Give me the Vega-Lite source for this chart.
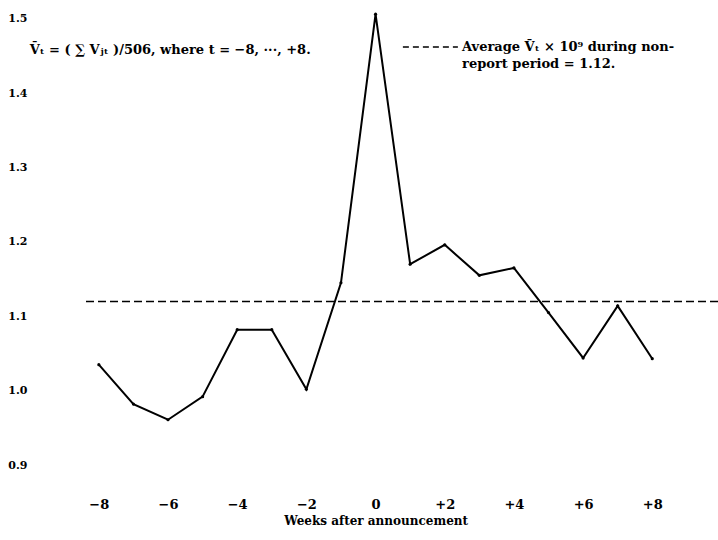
{
  "$schema": "https://vega.github.io/schema/vega-lite/v6.json",
  "width": 633,
  "height": 480,
  "autosize": {"type": "none"},
  "padding": {"left": 85, "top": 0, "right": 0, "bottom": 60},
  "background": "white",
  "config": {
    "view": {"stroke": null},
    "font": "DejaVu Serif",
    "axis": {"labelFont": "DejaVu Serif", "titleFont": "DejaVu Serif"},
    "text": {"font": "DejaVu Serif"}
  },
  "datasets": {
    "series": [
      {"week": -8, "volume": 1.035},
      {"week": -7, "volume": 0.982},
      {"week": -6, "volume": 0.961},
      {"week": -5, "volume": 0.992},
      {"week": -4, "volume": 1.082},
      {"week": -3, "volume": 1.082},
      {"week": -2, "volume": 1.002},
      {"week": -1, "volume": 1.145},
      {"week": 0, "volume": 1.506},
      {"week": 1, "volume": 1.170},
      {"week": 2, "volume": 1.196},
      {"week": 3, "volume": 1.155},
      {"week": 4, "volume": 1.165},
      {"week": 5, "volume": 1.105},
      {"week": 6, "volume": 1.044},
      {"week": 7, "volume": 1.114},
      {"week": 8, "volume": 1.043}
    ],
    "avg": [{"value": 1.12}],
    "legendDash": [{"x1": 0.79, "x2": 2.38, "y": 1.462}],
    "notes": [
      {"x": -10.0, "y": 1.458, "text": "V̄ₜ = ( ∑ Vⱼₜ )/506, where t = −8, ···, +8."},
      {"x": 2.5, "y": 1.462, "text": "Average V̄ₜ × 10⁹ during non-"},
      {"x": 2.5, "y": 1.439, "text": "report period = 1.12."}
    ]
  },
  "layer": [
    {
      "data": {"name": "avg"},
      "mark": {"type": "rule", "strokeDash": [8, 4], "strokeWidth": 1.5, "color": "black"},
      "encoding": {
        "y": {"field": "value", "type": "quantitative", "scale": {"domain": [0.88, 1.525], "nice": false, "zero": false}}
      }
    },
    {
      "data": {"name": "series"},
      "mark": {"type": "line", "color": "black", "strokeWidth": 2, "point": {"filled": true, "size": 10, "color": "black"}},
      "encoding": {
        "x": {
          "field": "week", "type": "quantitative",
          "scale": {"domain": [-8.4, 9.9], "nice": false, "zero": false},
          "axis": {
            "values": [-8, -6, -4, -2, 0, 2, 4, 6, 8],
            "labelExpr": "datum.value > 0 ? '+' + datum.value : (datum.value < 0 ? '−' + abs(datum.value) : '0')",
            "domain": false, "ticks": false, "grid": false,
            "labelPadding": 18, "labelFontSize": 13, "labelFontWeight": "bold", "labelColor": "black",
            "title": "Weeks after announcement",
            "titleFontSize": 12, "titleFontWeight": "bold", "titleColor": "black",
            "titleX": 290.6, "titleY": 40, "titleAlign": "center", "titleBaseline": "middle"
          }
        },
        "y": {
          "field": "volume", "type": "quantitative",
          "scale": {"domain": [0.88, 1.525], "nice": false, "zero": false},
          "axis": {
            "values": [0.9, 1.0, 1.1, 1.2, 1.3, 1.4, 1.5],
            "format": ".1f",
            "domain": false, "ticks": false, "grid": false,
            "labelPadding": 58, "labelFontSize": 11, "labelFontWeight": "bold", "labelColor": "black",
            "title": null
          }
        }
      }
    },
    {
      "data": {"name": "legendDash"},
      "mark": {"type": "rule", "strokeDash": [6, 4], "strokeWidth": 1.5, "color": "black", "clip": false},
      "encoding": {
        "x": {"field": "x1", "type": "quantitative"},
        "x2": {"field": "x2"},
        "y": {"field": "y", "type": "quantitative"}
      }
    },
    {
      "data": {"name": "notes"},
      "mark": {"type": "text", "align": "left", "baseline": "middle", "fontSize": 13, "fontWeight": "bold", "color": "black", "clip": false, "font": "DejaVu Serif"},
      "encoding": {
        "x": {"field": "x", "type": "quantitative"},
        "y": {"field": "y", "type": "quantitative"},
        "text": {"field": "text"}
      }
    }
  ]
}
